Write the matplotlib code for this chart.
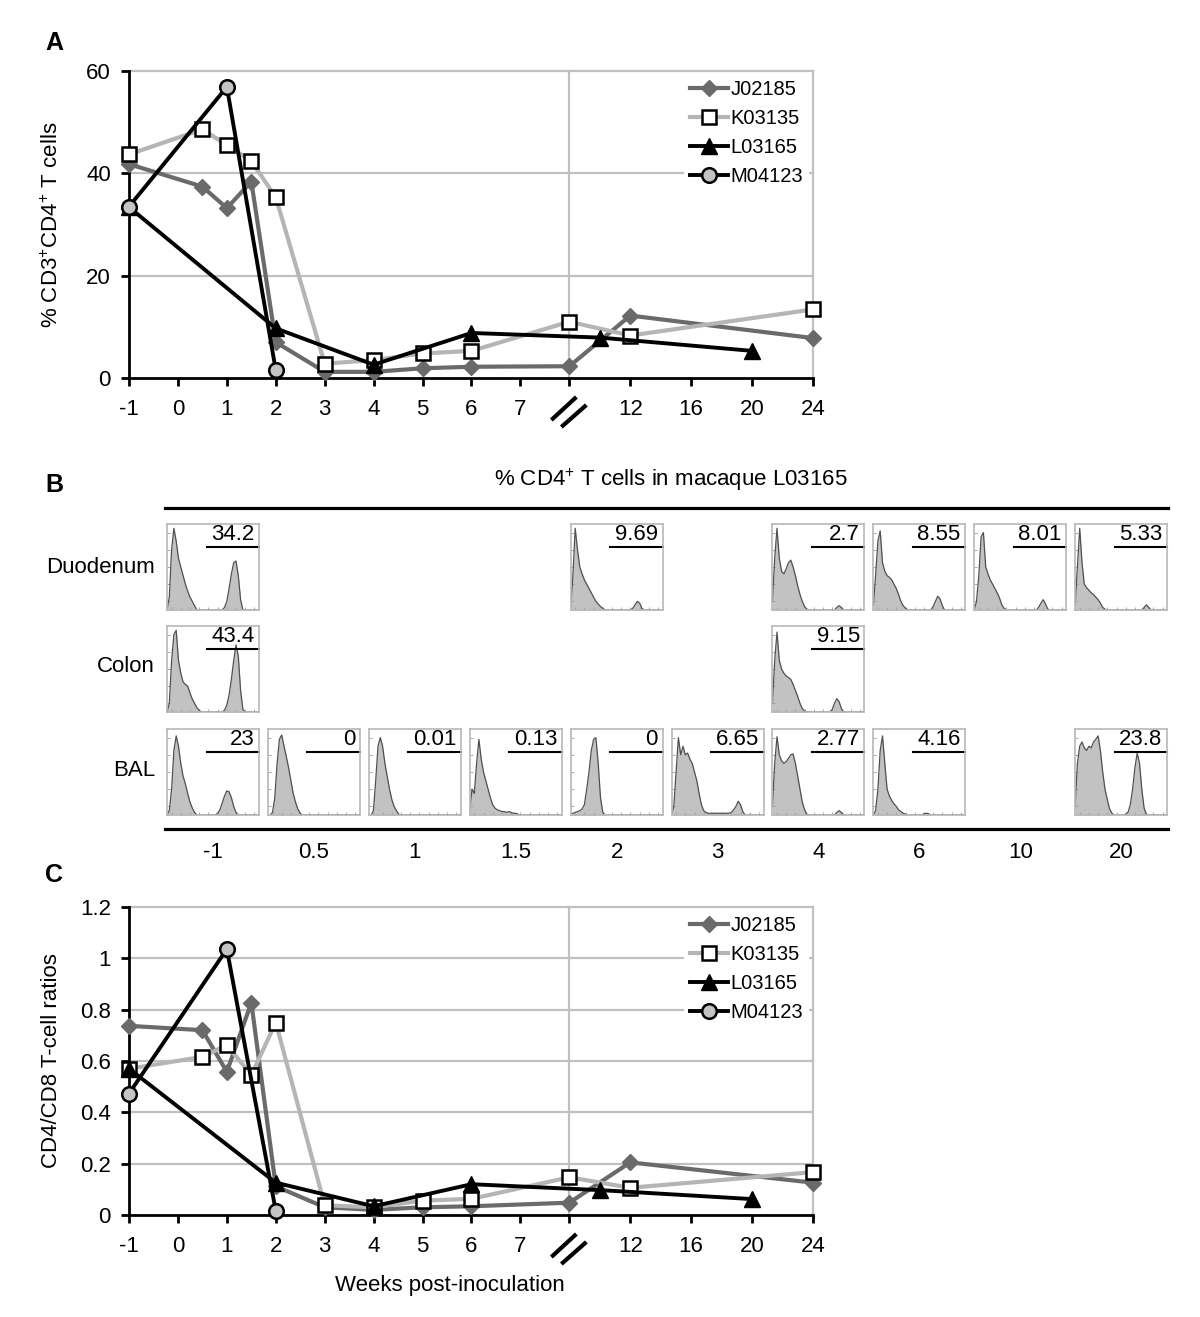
import numpy as np
import matplotlib
matplotlib.use('Agg')
import matplotlib.pyplot as plt
from matplotlib.lines import Line2D
import matplotlib.transforms as mtransforms

plt.rcParams['font.family'] = ['Liberation Sans', 'DejaVu Sans']
plt.rcParams['mathtext.fontset'] = 'custom'
plt.rcParams['mathtext.rm'] = 'Liberation Sans'
plt.rcParams['mathtext.it'] = 'Liberation Sans:italic'
plt.rcParams['mathtext.bf'] = 'Liberation Sans:bold'

# ------------------------------------------------------------------ data
series_names = ['J02185', 'K03135', 'L03165', 'M04123']

# Panel A: % CD3+CD4+ T cells
J_weeks = [-1, 0.5, 1, 1.5, 2, 3, 4, 5, 6, 8, 12, 24]
J_vals_A = [41.8, 37.4, 33.2, 38.4, 7.0, 1.2, 1.2, 1.9, 2.2, 2.3, 12.2, 7.8]
K_weeks = [-1, 0.5, 1, 1.5, 2, 3, 4, 5, 6, 8, 12, 24]
K_vals_A = [43.7, 48.6, 45.5, 42.4, 35.3, 2.8, 3.5, 4.8, 5.3, 11.0, 8.3, 13.4]
L_weeks = [-1, 2, 4, 6, 10, 20]
L_vals_A = [33.4, 9.7, 2.6, 8.8, 7.9, 5.3]
M_weeks = [-1, 1, 2]
M_vals_A = [33.5, 56.9, 1.5]

# Panel C: CD4/CD8 T-cell ratios
J_vals_C = [0.737, 0.72, 0.558, 0.827, 0.112, 0.03, 0.02, 0.03, 0.034, 0.048, 0.205, 0.126]
K_vals_C = [0.57, 0.616, 0.662, 0.545, 0.75, 0.038, 0.03, 0.056, 0.063, 0.147, 0.106, 0.167]
L_vals_C = [0.57, 0.126, 0.034, 0.12, 0.097, 0.062]
M_vals_C = [0.473, 1.036, 0.016]

x_ticks = [-1, 0, 1, 2, 3, 4, 5, 6, 7, 8, 12, 16, 20, 24]
x_ticklabels = ['-1', '0', '1', '2', '3', '4', '5', '6', '7', '', '12', '16', '20', '24']
yticks_A = [0, 20, 40, 60]
yticklabels_A = ['0', '20', '40', '60']
yticks_C = [0, 0.2, 0.4, 0.6, 0.8, 1.0, 1.2]
yticklabels_C = ['0', '0.2', '0.4', '0.6', '0.8', '1', '1.2']
break_week = 8

# Panel B: flow histograms, macaque L03165
b_columns = ['-1', '0.5', '1', '1.5', '2', '3', '4', '6', '10', '20']
b_rows = ['Duodenum', 'Colon', 'BAL']
duodenum_pct = ['34.2', None, None, None, '9.69', None, '2.7', '8.55', '8.01', '5.33']
colon_pct = ['43.4', None, None, None, None, None, '9.15', None, None, None]
bal_pct = ['23', '0', '0.01', '0.13', '0', '6.65', '2.77', '4.16', None, '23.8']

# histogram heights on 41 channels (0..1, step 0.025); trailing channels empty
hist_duo_m1 = [0, .15, .70, .95, .80, .60, .50, .40, .30, .22,
               .15, .10, .05, 0, 0, 0, 0, 0, 0, 0,
               0, 0, 0, 0, 0, .03, .10, .25, .42, .55,
               .57, .40, .12, 0]
hist_duo_2 = [0, .40, .95, .70, .50, .42, .35, .30, .25, .20,
              .15, .10, .07, .04, .02, 0, 0, 0, 0, 0,
              0, 0, 0, 0, 0, 0, 0, .02, .06, .10,
              .08, .02, 0]
hist_duo_4 = [.10, .60, .95, .60, .45, .42, .48, .55, .58, .50,
              .40, .28, .18, .10, .04, .01, 0, 0, 0, 0,
              0, 0, 0, 0, 0, 0, 0, 0, .03, .05,
              .03, 0]
hist_duo_6 = [.05, .40, .80, .92, .55, .45, .40, .38, .35, .30,
              .25, .18, .10, .05, .02, 0, 0, 0, 0, 0,
              0, 0, 0, 0, 0, 0, .04, .10, .16, .13,
              .05, 0]
hist_duo_10 = [0, .10, .40, .85, .90, .50, .42, .35, .30, .25,
               .20, .14, .06, .02, 0, 0, 0, 0, 0, 0,
               0, 0, 0, 0, 0, 0, 0, 0, .03, .08,
               .12, .07, .01, 0]
hist_duo_20 = [.05, .50, .95, .55, .30, .26, .23, .20, .18, .15,
               .12, .08, .03, .01, 0, 0, 0, 0, 0, 0,
               0, 0, 0, 0, 0, 0, 0, 0, 0, 0,
               .03, .06, .03, 0]
hist_col_m1 = [0, .10, .60, .90, .95, .60, .45, .35, .32, .30,
               .22, .15, .10, .05, .02, 0, 0, 0, 0, 0,
               0, 0, 0, 0, 0, .02, .08, .20, .38, .60,
               .78, .65, .25, .03, 0]
hist_col_4 = [.10, .60, .93, .60, .50, .45, .42, .40, .38, .32,
              .25, .18, .10, .04, .01, 0, 0, 0, 0, 0,
              0, 0, 0, 0, 0, 0, .03, .10, .155, .12,
              .04, 0]
hist_bal_m1 = [0, .05, .30, .75, .92, .80, .60, .45, .36, .25,
               .15, .08, .03, 0, 0, 0, 0, 0, 0, 0,
               0, 0, .02, .06, .14, .22, .28, .27, .20, .10,
               .03, 0]
hist_bal_05 = [0, 0, .03, .20, .60, .88, .93, .80, .68, .55,
               .40, .25, .15, .07, .02, 0]
hist_bal_1 = [0, 0, .05, .40, .80, .90, .80, .60, .45, .30,
              .18, .10, .05, .01, 0]
hist_bal_15 = [.05, .30, .25, .60, .88, .65, .50, .40, .30, .20,
               .12, .08, .06, .05, .04, .04, .03, .04, .03, .02,
               .02, .01, 0]
hist_bal_2 = [0, .02, .03, .04, .05, .07, .12, .30, .50, .75,
              .88, .90, .60, .20, .03, 0]
hist_bal_3 = [0, .10, .50, .90, .70, .80, .70, .72, .65, .60,
              .50, .40, .25, .12, .05, .03, .02, .02, .02, .02,
              .02, .02, .02, .02, .02, .02, .03, .06, .10, .16,
              .12, .04, 0]
hist_bal_4 = [.10, .60, .91, .70, .63, .60, .62, .66, .70, .71,
              .60, .45, .30, .15, .06, .01, 0, 0, 0, 0,
              0, 0, 0, 0, 0, 0, 0, 0, .03, .05,
              .03, 0]
hist_bal_6 = [0, .05, .30, .75, .92, .60, .30, .22, .17, .13,
              .10, .06, .04, .02, .01, 0, 0, 0, 0, 0,
              0, 0, .015, .02, .015, 0]
hist_bal_20 = [.10, .60, .80, .85, .78, .75, .80, .78, .85, .88,
               .92, .75, .50, .30, .18, .07, .02, 0, 0, 0,
               0, 0, .01, .03, .12, .30, .55, .72, .60, .30,
               .08, .01, 0]

histograms = {
    (0, 0): hist_duo_m1, (0, 4): hist_duo_2, (0, 6): hist_duo_4,
    (0, 7): hist_duo_6, (0, 8): hist_duo_10, (0, 9): hist_duo_20,
    (1, 0): hist_col_m1, (1, 6): hist_col_4,
    (2, 0): hist_bal_m1, (2, 1): hist_bal_05, (2, 2): hist_bal_1,
    (2, 3): hist_bal_15, (2, 4): hist_bal_2, (2, 5): hist_bal_3,
    (2, 6): hist_bal_4, (2, 7): hist_bal_6, (2, 9): hist_bal_20,
}
percents = [duodenum_pct, colon_pct, bal_pct]
n_channels = 41
channels = np.linspace(0, 1, n_channels)

# ------------------------------------------------------------------ figure
W, H = 1200, 1317
fig = plt.figure(figsize=(W / 100, H / 100), dpi=100)


def fx(px):
    return px / W


def fy(py):
    return 1 - py / H


FS = 16
LFS = 16
K_SCALE = 15.25 / 49.0


def fwd(w):
    w = np.asarray(w, dtype=float)
    return np.where(w <= break_week, w, break_week + (w - break_week) * K_SCALE)


def inv(p):
    p = np.asarray(p, dtype=float)
    return np.where(p <= break_week, p, break_week + (p - break_week) / K_SCALE)


styles = [
    dict(color='#6a6a6a', marker='D', ms=8.5, mfc='#6a6a6a', mec='#6a6a6a', lw=3.0),
    dict(color='#b5b5b5', marker='s', ms=10.5, mfc='white', mec='black', mew=1.8, lw=3.0),
    dict(color='black', marker='^', ms=11, mfc='black', mec='black', lw=2.8),
    dict(color='black', marker='o', ms=10.5, mfc='#c4c4c4', mec='black', mew=1.8, lw=2.8),
]


def draw_break(ax):
    base = mtransforms.ScaledTranslation(break_week, 0, ax.get_xaxis_transform())
    trans = fig.dpi_scale_trans + base
    for (x0, y0, x1, y1) in [(-0.18, -0.42, 0.07, -0.19), (-0.08, -0.49, 0.17, -0.27)]:
        fig.add_artist(Line2D([x0, x1], [y0, y1], transform=trans, color='black',
                              lw=3.0, solid_capstyle='butt'))


def line_panel(rect, data, yticks, yticklabels, ylim, ylabel, letter, letter_y):
    ax = fig.add_axes(rect)
    ax.set_xscale('function', functions=(fwd, inv))
    ax.set_xlim(-1, 24)
    ax.set_ylim(*ylim)
    for y in yticks[1:]:
        ax.axhline(y, color='#c0c0c0', lw=1.6, zorder=0, clip_on=False)
    for xv in (break_week, 24):
        ax.axvline(xv, color='#c0c0c0', lw=1.6, zorder=0, clip_on=False)
    handles = []
    for (wk, vals), name, st in zip(data, series_names, styles):
        h, = ax.plot(wk, vals, label=name, clip_on=False, zorder=3, **st)
        handles.append(h)
    for side in ('top', 'right'):
        ax.spines[side].set_visible(False)
    for side in ('left', 'bottom'):
        ax.spines[side].set_linewidth(2.0)
        ax.spines[side].set_zorder(2)
    ax.set_xticks(x_ticks)
    ax.set_xticklabels(x_ticklabels)
    ax.xaxis.set_minor_locator(matplotlib.ticker.NullLocator())
    ax.set_yticks(yticks)
    ax.set_yticklabels(yticklabels)
    ax.tick_params(axis='both', direction='out', length=6, width=2.0, labelsize=FS)
    ax.tick_params(axis='x', pad=9)
    ax.tick_params(axis='y', pad=7)
    ax.set_ylabel(ylabel, fontsize=LFS, va='center')
    leg = ax.legend(handles=handles, loc='upper left',
                    bbox_to_anchor=((684 - 129) / 684, 1 - 3 / 307),
                    borderaxespad=0, borderpad=0.3, frameon=True, fancybox=False,
                    framealpha=1, facecolor='white', edgecolor='none',
                    fontsize=14.5, handlelength=1.9, handletextpad=0.1,
                    labelspacing=0.5)
    leg.set_zorder(5)
    fig.text(fx(54), fy(letter_y), letter, fontsize=18, fontweight='bold',
             ha='center', va='center')
    draw_break(ax)
    return ax


axA = line_panel([fx(129), fy(378), 684 / W, 307 / H],
                 [(J_weeks, J_vals_A), (K_weeks, K_vals_A), (L_weeks, L_vals_A), (M_weeks, M_vals_A)],
                 yticks_A, yticklabels_A, (0, 60),
                 r'% CD3$^{+}$CD4$^{+}$ T cells', 'A', 43)
axA.yaxis.set_label_coords(-77 / 684, 0.5)

axC = line_panel([fx(129), fy(1215), 684 / W, 308 / H],
                 [(J_weeks, J_vals_C), (K_weeks, K_vals_C), (L_weeks, L_vals_C), (M_weeks, M_vals_C)],
                 yticks_C, yticklabels_C, (0, 1.2),
                 'CD4/CD8 T-cell ratios', 'C', 875)
axC.yaxis.set_label_coords(-77 / 684, 0.5)
axC.set_xlabel('Weeks post-inoculation', fontsize=LFS)
axC.xaxis.set_label_coords((450 - 129) / 684, -(1285 - 1215) / 308)
axC.xaxis.label.set_va('center')

# ------------------------------------------------------------------ panel B
fig.text(fx(54), fy(485), 'B', fontsize=18, fontweight='bold', ha='center', va='center')
fig.text(fx(671), fy(480), r'% CD4$^{+}$ T cells in macaque L03165', fontsize=LFS,
         ha='center', va='center')
for yy in (508, 829):
    fig.add_artist(Line2D([fx(165), fx(1168)], [fy(yy), fy(yy)],
                          transform=fig.transFigure, color='black', lw=2.3))

col_left0, col_step, box_w = 167, 100.9, 92
row_tops, box_h = [524, 626, 729], 86
row_label_y = [568, 667, 771]

for r, rname in enumerate(b_rows):
    fig.text(fx(155), fy(row_label_y[r]), rname, fontsize=LFS, ha='right', va='center')
    for c in range(len(b_columns)):
        pct = percents[r][c]
        if pct is None:
            continue
        left = col_left0 + col_step * c
        bx = fig.add_axes([fx(left), fy(row_tops[r] + box_h), box_w / W, box_h / H])
        counts = np.zeros(n_channels)
        vals = histograms[(r, c)]
        counts[:len(vals)] = vals
        bx.fill_between(channels, counts, color='#c2c2c2', lw=0)
        bx.plot(channels, counts, color='#505050', lw=0.9)
        bx.set_xlim(0, 1)
        bx.set_ylim(0, 1)
        for s in bx.spines.values():
            s.set_color('#b8b8b8')
            s.set_linewidth(1.2)
        bx.set_xticks(np.arange(0.05, 1.0, 0.1))
        bx.set_yticks(np.arange(0.1, 1.0, 0.2))
        bx.tick_params(direction='in', length=2, width=0.6, color='#9a9a9a',
                       labelbottom=False, labelleft=False)
        bx.plot([0.43, 1.0], [0.735, 0.735], transform=bx.transAxes,
                color='black', lw=1.5, clip_on=False)
        bx.text(0.95, 0.76, pct, transform=bx.transAxes, ha='right', va='bottom',
                fontsize=LFS)

for c, lab in enumerate(b_columns):
    fig.text(fx(col_left0 + col_step * c + box_w / 2), fy(853), lab, fontsize=FS,
             ha='center', va='center')

fig.savefig('out.png', dpi=100)
